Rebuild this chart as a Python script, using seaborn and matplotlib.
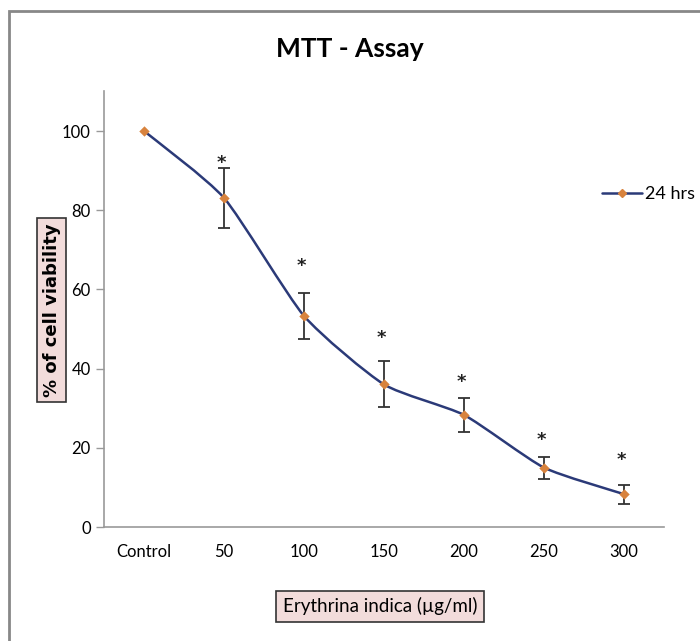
import numpy as np
import seaborn as sb
from matplotlib import pyplot as plt
from matplotlib.path import Path
from matplotlib.patches import PathPatch, Rectangle
from matplotlib.lines import Line2D

categories = ['Control', '50', '100', '150', '200', '250', '300']
viability = [100.0, 83.1, 53.3, 36.0, 28.3, 15.0, 8.3]
errors = [0.0, 7.6, 5.8, 5.8, 4.3, 2.8, 2.4]
star_y = [None, 92.0, 66.0, 47.7, 36.6, 22.0, 17.0]

line_col = '#2b3a78'
mark_col = '#d8833e'
narrow = ['Lato', 'DejaVu Sans']

sb.set_style('white')
plt.rcParams['font.family'] = narrow
plt.rcParams['text.color'] = 'black'
plt.rcParams['xtick.color'] = 'black'
plt.rcParams['ytick.color'] = 'black'

fig = plt.figure(figsize=(7, 6.41), dpi=100)
ax = fig.add_axes([0.1486, 0.1778, 0.80, 0.6796])

x = np.arange(len(categories))
y = np.array(viability)
err = np.array(errors)

# lightly smoothed connecting line (Excel style), control points from the data points
k = 10.0
verts = [(x[0], y[0])]
codes = [Path.MOVETO]
for i in range(len(x) - 1):
    p0 = (x[max(i - 1, 0)], y[max(i - 1, 0)])
    p1 = (x[i], y[i])
    p2 = (x[i + 1], y[i + 1])
    p3 = (x[min(i + 2, len(x) - 1)], y[min(i + 2, len(x) - 1)])
    c1 = (p1[0] + (p2[0] - p0[0]) / k, p1[1] + (p2[1] - p0[1]) / k)
    c2 = (p2[0] - (p3[0] - p1[0]) / k, p2[1] - (p3[1] - p1[1]) / k)
    verts += [c1, c2, p2]
    codes += [Path.CURVE4] * 3
ax.add_patch(PathPatch(Path(verts, codes), fill=False, edgecolor=line_col, lw=1.8, zorder=2))

has_err = err > 0
ax.errorbar(x[has_err], y[has_err], yerr=err[has_err], fmt='none', ecolor='#333333',
            elinewidth=1.3, capsize=4, capthick=1.3, zorder=3)
sb.scatterplot(x=x, y=y, marker='D', s=28, color=mark_col, edgecolor=mark_col,
               linewidth=0, zorder=4, ax=ax, legend=False)

for i, sy in enumerate(star_y):
    if sy is not None:
        ax.text(x[i] - 0.03, sy, '*', ha='center', va='center', fontsize=13,
                fontweight='bold', color='#222222', family='DejaVu Sans')

ax.set_xlim(-0.5, 6.5)
ax.set_ylim(0, 110)
ax.set_yticks([0, 20, 40, 60, 80, 100])
ax.set_xticks(x)
ax.set_xticklabels(categories)
ax.set_xticks(np.arange(-0.5, 7, 1), minor=True)
ax.tick_params(axis='x', which='major', length=0, pad=12, labelsize=12)
ax.tick_params(axis='x', which='minor', length=6, color='#999999', width=1)
ax.tick_params(axis='y', length=6, color='#999999', width=1, labelsize=12, left=True)
for s in ['top', 'right']:
    ax.spines[s].set_visible(False)
for s in ['left', 'bottom']:
    ax.spines[s].set_color('#999999')
    ax.spines[s].set_linewidth(1.2)

ax.legend(handles=[Line2D([], [], color=line_col, lw=1.8, marker='D', markersize=4,
                          markerfacecolor=mark_col, markeredgecolor=mark_col)],
          labels=['24 hrs'], loc='upper left', bbox_to_anchor=(0.86, 0.82),
          frameon=False, fontsize=13, handlelength=2.2, handletextpad=0.2)

fig.text(0.5, 0.924, 'MTT - Assay', ha='center', va='center', fontsize=19, fontweight='bold')

box = dict(boxstyle='square,pad=0.3', facecolor='#f2dcdb', edgecolor='#333333', linewidth=1.2)
fig.text(0.074, 0.516, '% of cell viability', rotation=90, ha='center', va='center',
         fontsize=13, fontweight='bold', family='DejaVu Sans', bbox=box)
fig.text(0.543, 0.054, 'Erythrina indica (µg/ml)', ha='center', va='center',
         fontsize=13.5, bbox=dict(boxstyle='square,pad=0.35', facecolor='#f2dcdb',
                                  edgecolor='#333333', linewidth=1.2))

fig.add_artist(Rectangle((0.013, -0.1), 1.2, 1.083, transform=fig.transFigure,
                         fill=False, edgecolor='#888888', lw=2))

fig.savefig('out.png', dpi=100)
